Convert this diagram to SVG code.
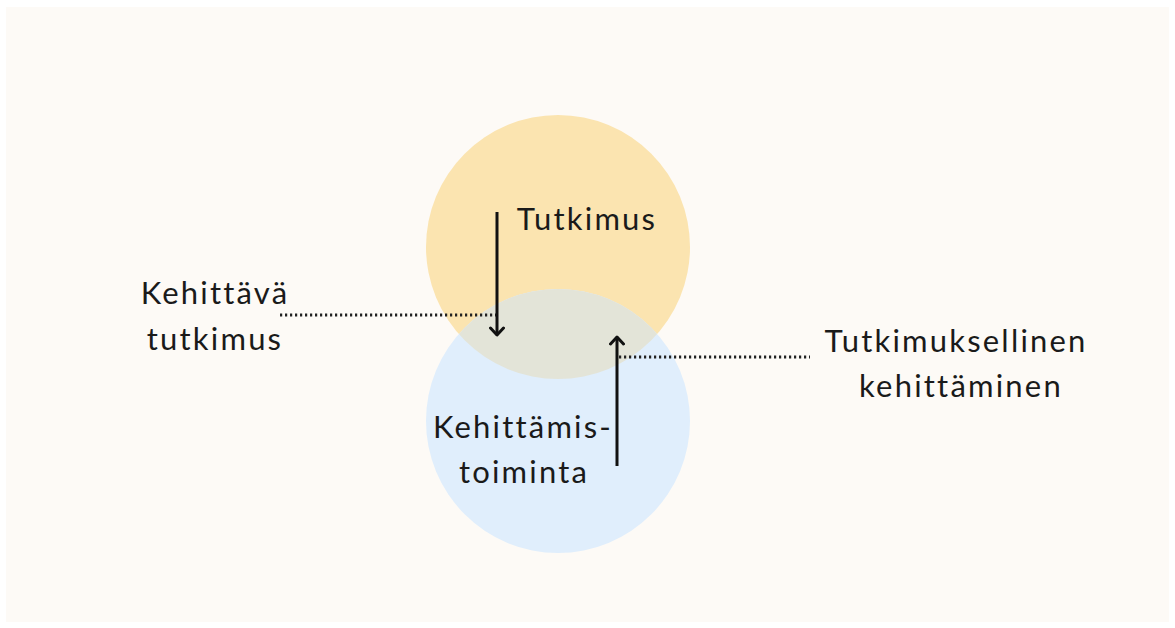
<svg xmlns="http://www.w3.org/2000/svg" width="1175" height="628" viewBox="0 0 1175 628">
  <defs>
    <style>
      .lbl { font-family: Lato, "Open Sans", sans-serif; font-size: 31px; fill: #1a1a1a; text-anchor: middle; letter-spacing: 2.2px; }
      .arrow { stroke: #111; stroke-width: 3; fill: none; }
      .dots { stroke: #222; stroke-width: 3; stroke-dasharray: 2.2 2.8; fill: none; }
    </style>
    <clipPath id="topClip">
      <circle cx="558" cy="247" r="132"/>
    </clipPath>
    <marker id="head" viewBox="0 0 16 16" refX="13" refY="8" markerWidth="16" markerHeight="16" markerUnits="userSpaceOnUse" orient="auto">
      <path d="M6,1.5 L13,8 L6,14.5" stroke="#111" stroke-width="3" fill="none" stroke-linecap="round" stroke-linejoin="round"/>
    </marker>
  </defs>

  <!-- page -->
  <rect x="0" y="0" width="1175" height="628" fill="#ffffff"/>
  <rect x="6" y="7" width="1163" height="615" fill="#fdfaf6"/>

  <!-- circles -->
  <g id="tutkimus">
    <circle cx="558" cy="247" r="132" fill="#fbe4b0"/>
    <text class="lbl" x="587" y="230">Tutkimus</text>
  </g>
  <g id="kehittamistoiminta">
    <circle cx="558" cy="421" r="132" fill="#e0eefc"/>
    <text class="lbl" x="523" y="438">Kehittämis-</text>
    <text class="lbl" x="524" y="483">toiminta</text>
  </g>
  <g id="overlap">
    <circle cx="558" cy="421" r="132" fill="#e3e4d8" clip-path="url(#topClip)"/>
  </g>

  <g id="kehittava-tutkimus">
    <text class="lbl" x="215" y="304">Kehittävä</text>
    <text class="lbl" x="215" y="350">tutkimus</text>
  </g>
  <g id="tutkimuksellinen-kehittaminen">
    <text class="lbl" x="956" y="352">Tutkimuksellinen</text>
    <text class="lbl" x="961" y="397">kehittäminen</text>
  </g>

  <!-- connectors -->
  <g id="connectors">
    <line class="dots" x1="280" y1="315" x2="496" y2="315"/>
    <line class="dots" x1="619" y1="357" x2="810" y2="357"/>
    <line class="arrow" x1="497" y1="212" x2="497" y2="335" marker-end="url(#head)"/>
    <line class="arrow" x1="617" y1="466" x2="617" y2="337" marker-end="url(#head)"/>
  </g>
</svg>
